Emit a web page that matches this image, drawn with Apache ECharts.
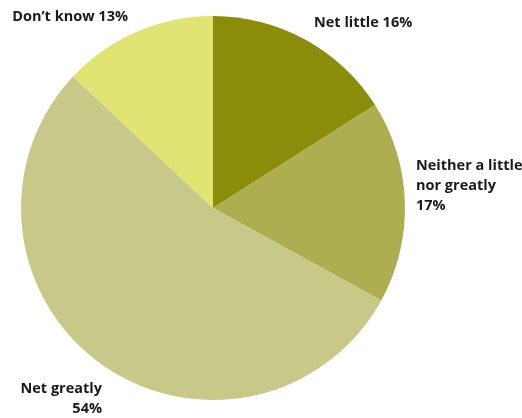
<!DOCTYPE html>
<html>
<head>
<meta charset="utf-8">
<style>
  html, body { margin: 0; padding: 0; background: #ffffff; }
  #chart { width: 522px; height: 418px; }
</style>
<script src="https://cdn.jsdelivr.net/npm/echarts@6/dist/echarts.min.js"></script>
</head>
<body>
<div id="chart"></div>
<script>
// Survey answer shares, clockwise from 12 o'clock
const categories = ['Net little', 'Neither a little\nnor greatly', 'Net greatly', 'Don\u2019t know'];
const shares = [16, 17, 54, 13];
const sliceColors = ['#8b8c0a', '#adae50', '#c8c888', '#e0e473'];

// Where each slice's label block sits, and how it is aligned
const labelSpots = [
  { x: 314, y: 23,  align: 'left'  },
  { x: 416, y: 186, align: 'left'  },
  { x: 102, y: 399, align: 'right' },
  { x: 128, y: 17,  align: 'right' }
];

const chart = echarts.init(document.getElementById('chart'), null, { renderer: 'canvas' });

chart.setOption({
  animation: false,
  series: [{
    type: 'pie',
    center: [213, 208],
    radius: [0, 192],
    startAngle: 90,
    clockwise: true,
    silent: true,
    data: categories.map((name, i) => ({
      name: name,
      value: shares[i],
      itemStyle: { color: sliceColors[i] }
    })),
    label: {
      show: true,
      position: 'outside',
      alignTo: 'none',
      overflow: 'none',
      bleedMargin: 0,
      formatter: p => p.name + (p.dataIndex === 0 || p.dataIndex === 3 ? ' ' : '\n') + p.value + '%',
      fontFamily: 'Open Sans',
      fontWeight: 'bold',
      fontSize: 14.5,
      lineHeight: 20,
      color: '#1a1a1a'
    },
    labelLine: { show: false },
    labelLayout: p => {
      const s = labelSpots[p.dataIndex];
      return { x: s.x, y: s.y, align: s.align, verticalAlign: 'middle' };
    }
  }]
});
</script>
</body>
</html>
